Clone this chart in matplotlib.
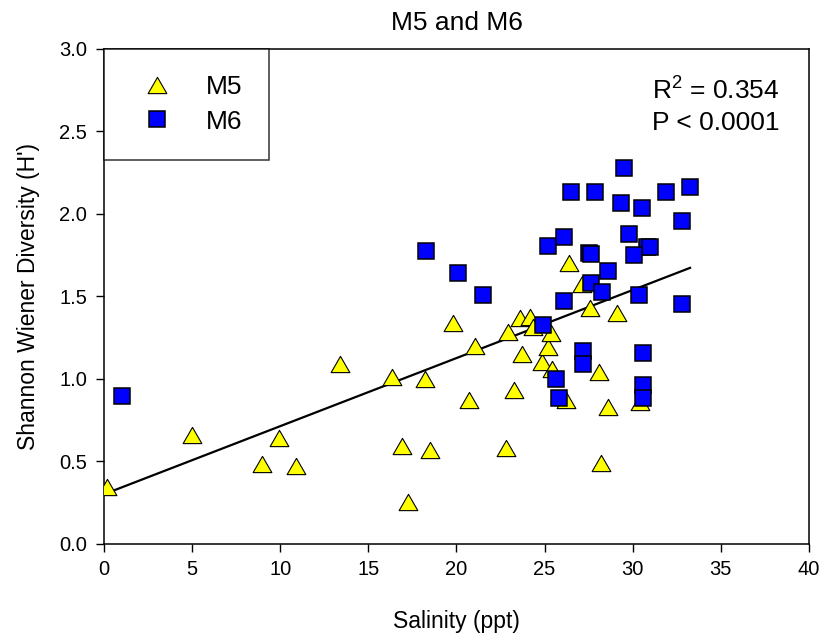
import numpy as np
import matplotlib
matplotlib.use('Agg')
import matplotlib.pyplot as plt
from matplotlib.path import Path

plt.rcParams['font.family'] = ['Liberation Sans', 'DejaVu Sans']
plt.rcParams['mathtext.fontset'] = 'custom'
plt.rcParams['mathtext.rm'] = 'Liberation Sans'
plt.rcParams['mathtext.it'] = 'Liberation Sans'

# M5 site: salinity (ppt) vs Shannon Wiener diversity
m5_sal = [0.15, 4.98, 8.98, 9.95, 10.88, 13.39, 16.32, 16.89, 17.25, 18.21,
          18.50, 19.78, 20.73, 21.05, 22.79, 22.92, 23.28, 23.60, 23.70, 24.17,
          24.36, 24.87, 25.17, 25.34, 25.43, 26.20, 26.40, 27.10, 27.57, 28.09,
          28.20, 28.58, 29.12, 30.41]
m5_div = [0.345, 0.66, 0.48, 0.64, 0.47, 1.09, 1.01, 0.59, 0.25, 1.00,
          0.57, 1.34, 0.87, 1.20, 0.58, 1.285, 0.93, 1.37, 1.15, 1.375,
          1.315, 1.10, 1.19, 1.275, 1.06, 0.87, 1.70, 1.575, 1.43, 1.04,
          0.49, 0.83, 1.40, 0.86]

# M6 site
m6_sal = [1.00, 18.27, 20.09, 21.49, 24.89, 25.17, 26.10, 26.50, 27.86, 29.50,
          29.32, 30.54, 31.87, 33.25, 32.79, 29.77, 27.53, 27.63, 30.79, 30.98,
          30.09, 28.62, 27.61, 28.27, 26.10, 30.37, 32.82, 25.63, 25.82, 27.19,
          27.19, 30.60, 30.60, 30.60]
m6_div = [0.895, 1.775, 1.64, 1.51, 1.325, 1.805, 1.86, 2.135, 2.135, 2.28,
          2.065, 2.035, 2.135, 2.16, 1.955, 1.88, 1.76, 1.755, 1.80, 1.80,
          1.75, 1.655, 1.58, 1.525, 1.47, 1.51, 1.45, 0.995, 0.885, 1.165,
          1.09, 1.155, 0.96, 0.88]

# linear fit over both sites
fit_intercept = 0.299
fit_slope = 0.0413
r2_text = 'R$^{2}$ = 0.354'
p_text = 'P < 0.0001'

tri = Path([(-1, -0.866), (1, -0.866), (0, 0.866), (-1, -0.866)],
           [Path.MOVETO, Path.LINETO, Path.LINETO, Path.CLOSEPOLY])

fig = plt.figure(figsize=(8.2, 6.36), dpi=100)
ax = fig.add_axes([0.1268, 0.1454, 0.8598, 0.7776])

all_x = np.array(m5_sal + m6_sal)
xx = np.array([all_x.min(), all_x.max()])
ax.plot(xx, fit_intercept + fit_slope * xx, color='black', lw=1.6, zorder=2)

ax.plot(m5_sal, m5_div, linestyle='none', marker=tri, ms=13.5,
        mfc='#FFFF00', mec='black', mew=0.8, label='M5', zorder=3)
ax.plot(m6_sal, m6_div, linestyle='none', marker='s', ms=11,
        mfc='#0000FF', mec='black', mew=1.1, label='M6', zorder=4)

ax.set_xlim(0, 40)
ax.set_ylim(0, 3.0)
ax.set_xticks(np.arange(0, 41, 5))
ax.set_yticks(np.arange(0, 3.01, 0.5))
ax.set_yticklabels(['%.1f' % v for v in np.arange(0, 3.01, 0.5)])
ax.tick_params(direction='out', length=6, width=1, labelsize=14.5, pad=6,
               top=False, right=False)
for sp in ax.spines.values():
    sp.set_linewidth(1.1)

ax.set_title('M5 and M6', fontsize=19, pad=14)
ax.set_xlabel('Salinity (ppt)', fontsize=16.5, labelpad=22)
ax.set_ylabel("Shannon Wiener Diversity (H')", fontsize=16.5, labelpad=14)

leg = ax.legend(loc='upper left', bbox_to_anchor=(0, 1), borderaxespad=0,
                fontsize=19, frameon=True, fancybox=False, borderpad=1.0,
                handlelength=2.0, handletextpad=0.86, labelspacing=0.39)
leg.get_frame().set_edgecolor('black')
leg.get_frame().set_linewidth(1.1)

ax.text(0.777, 0.898, r2_text, transform=ax.transAxes, fontsize=19,
        ha='left', va='baseline')
ax.text(0.777, 0.836, p_text, transform=ax.transAxes, fontsize=19,
        ha='left', va='baseline')

fig.savefig('out.png', dpi=100)
